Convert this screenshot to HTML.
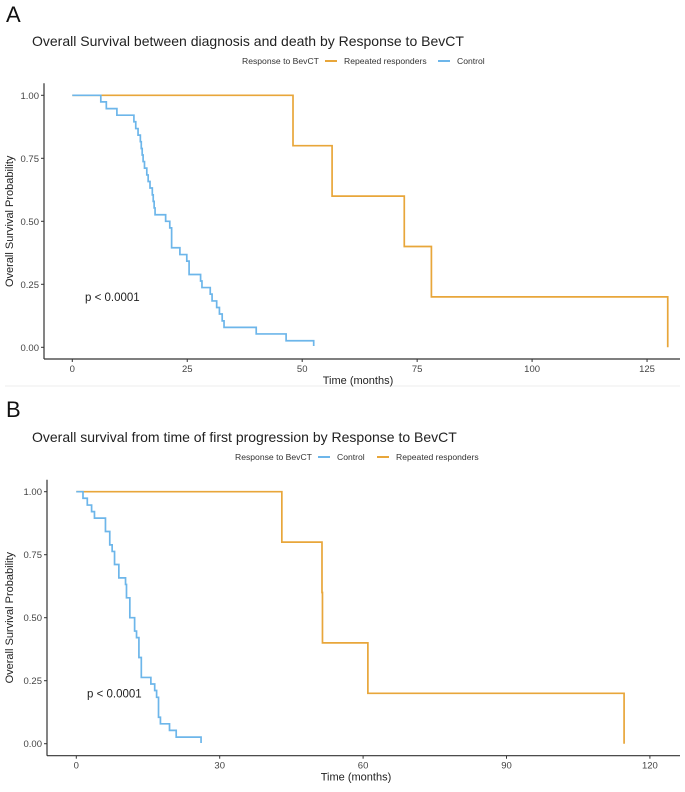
<!DOCTYPE html>
<html><head><meta charset="utf-8"><style>
body{margin:0;background:#fff;}
svg text{font-family:"Liberation Sans",sans-serif;}
</style></head><body>
<svg id="chart" width="685" height="787" xmlns="http://www.w3.org/2000/svg">
<line x1="5" y1="386" x2="680" y2="386" stroke="#ececec" stroke-width="1"/>
</svg>
<script>
// Panel A data
const aCtrlTimes=[0,6.2,7.4,9.7,13.4,13.8,14.3,14.8,15.0,15.2,15.4,15.7,16.2,16.5,16.9,17.4,17.6,17.8,18.0,20.3,21.2,21.6,23.4,24.9,25.4,27.9,28.2,30.0,30.4,31.4,32.0,32.6,33.0,40.0,46.5,52.5];
const aCtrlSurv=[1,.974,.947,.921,.895,.868,.842,.816,.789,.763,.737,.711,.684,.658,.632,.605,.579,.553,.526,.5,.474,.395,.368,.342,.289,.263,.237,.211,.184,.158,.132,.105,.079,.053,.026,0.005];
const aCtrlEnd=52.5;
const aRepTimes=[0,48,56.5,72.2,78.1,129.5];
const aRepSurv=[1,.8,.6,.4,.2,0];
const aRepEnd=129.5;
const aXTicks=[0,25,50,75,100,125];
// Panel B data
const bCtrlTimes=[0,1.4,2.3,3.2,3.8,6.1,7.0,7.5,8.0,8.9,10.3,10.5,11.2,12.2,12.6,13.1,13.6,15.6,16.4,16.8,17.2,17.6,19.5,20.9,26.1];
const bCtrlSurv=[1,.974,.947,.921,.895,.842,.789,.763,.711,.658,.632,.579,.5,.447,.421,.342,.263,.237,.211,.184,.105,.079,.053,.026,0.003];
const bCtrlEnd=26.1;
const bRepTimes=[0,43,51.4,51.5,61,114.6];
const bRepSurv=[1,.8,.6,.4,.2,0];
const bRepEnd=114.6;
const bXTicks=[0,30,60,90,120];
const yTicks=[0,0.25,0.5,0.75,1];

const svg=document.getElementById('chart');
const NS='http://www.w3.org/2000/svg';
function mk(tag,attrs,txt){const e=document.createElementNS(NS,tag);for(const k in attrs)e.setAttribute(k,attrs[k]);if(txt!==undefined)e.textContent=txt;svg.appendChild(e);return e;}
function stepPath(times,surv,end,xs,ys){let d='M'+xs(times[0])+','+ys(surv[0]);for(let i=1;i<times.length;i++){d+=' H'+xs(times[i])+' V'+ys(surv[i]);}d+=' H'+xs(end);return d;}
const ORANGE='#E8A63A',BLUE='#6DB6EA';

function panel(p){
  const xs=v=>p.x0+v*p.xk, ys=v=>p.y0-(p.y0-p.y1)*v;
  let e;
  e=mk('text',{x:p.letterX,y:p.letterY,'font-size':22,fill:'#111'},p.letter);
  
  
  e=mk('text',{x:p.titleX,y:p.titleY,'font-size':14,fill:'#222'},p.title);
  
  
  e=mk('text',{x:p.legX,y:p.legY,'font-size':8.6,fill:'#333'},'Response to BevCT');
  
  
  let lx=p.legX+83;
  p.legend.forEach(it=>{
    e=mk('line',{x1:lx,y1:p.legY-3,x2:lx+12,y2:p.legY-3,stroke:it.c,'stroke-width':2});
    
    
    e=mk('text',{x:lx+19,y:p.legY,'font-size':8.6,fill:'#333'},it.label);
    
    
    lx+=19+it.w+12;
  });
  e=mk('line',{x1:p.axL,y1:p.y1-12,x2:p.axL,y2:p.axB,stroke:'#333','stroke-width':1.2});
  
  
  e=mk('line',{x1:p.axL,y1:p.axB,x2:p.axR,y2:p.axB,stroke:'#333','stroke-width':1.2});
  
  
  yTicks.forEach(v=>{
    e=mk('line',{x1:p.axL-3,y1:ys(v),x2:p.axL,y2:ys(v),stroke:'#333'});
    
    
    e=mk('text',{x:p.axL-5,y:ys(v)+3.5,'font-size':9.5,fill:'#444','text-anchor':'end'},v.toFixed(2));
    
    
  });
  p.xTicks.forEach(v=>{
    e=mk('line',{x1:xs(v),y1:p.axB,x2:xs(v),y2:p.axB+3,stroke:'#333'});
    
    
    e=mk('text',{x:xs(v),y:p.axB+13,'font-size':9.5,fill:'#444','text-anchor':'middle'},String(v));
    
    
  });
  e=mk('text',{x:p.xtX,y:p.axB+25,'font-size':11,fill:'#222','text-anchor':'middle'},'Time (months)');
  
  
  const cy=(p.y0+p.y1)/2;
  e=mk('text',{x:13,y:cy,'font-size':11,fill:'#222','text-anchor':'middle',transform:'rotate(-90 13 '+cy+')'},'Overall Survival Probability');
  
  
  e=mk('text',{x:p.pX,y:ys(0.2)+4,'font-size':11.5,fill:'#222'},'p < 0.0001');
  
  
  e=mk('path',{d:stepPath(p.rep[0],p.rep[1],p.rep[2],xs,ys),fill:'none',stroke:ORANGE,'stroke-width':1.7});
  
  
  e=mk('path',{d:stepPath(p.ctrl[0],p.ctrl[1],p.ctrl[2],xs,ys),fill:'none',stroke:BLUE,'stroke-width':1.7});
  
  
}
panel({id:'a',letter:'A',letterX:6,letterY:22,title:'Overall Survival between diagnosis and death by Response to BevCT',titleX:32,titleY:46,
  legX:242,legY:64,legend:[{key:'repeated-responders-a',c:ORANGE,label:'Repeated responders',w:82},{key:'control-a',c:BLUE,label:'Control',w:28}],
  x0:72.3,xk:4.598,y0:347.3,y1:95.3,axL:44,axB:359,axR:680,xTicks:aXTicks,xtX:358,pX:85,
  ctrl:[aCtrlTimes,aCtrlSurv,aCtrlEnd],rep:[aRepTimes,aRepSurv,aRepEnd]});
panel({id:'b',letter:'B',letterX:6,letterY:417,title:'Overall survival from time of first progression by Response to BevCT',titleX:32,titleY:442,
  legX:235,legY:460,legend:[{key:'control-b',c:BLUE,label:'Control',w:28},{key:'repeated-responders-b',c:ORANGE,label:'Repeated responders',w:82}],
  x0:76.3,xk:4.78,y0:743.7,y1:491.7,axL:47,axB:755.7,axR:680,xTicks:bXTicks,xtX:356,pX:87,
  ctrl:[bCtrlTimes,bCtrlSurv,bCtrlEnd],rep:[bRepTimes,bRepSurv,bRepEnd]});
</script>
</body></html>
